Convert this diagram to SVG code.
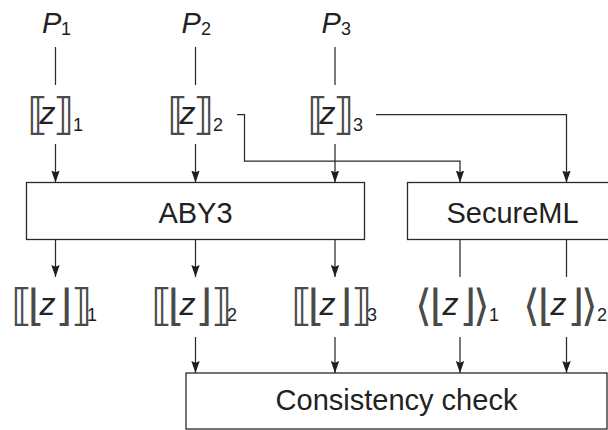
<svg xmlns="http://www.w3.org/2000/svg" width="608" height="430" viewBox="0 0 608 430">
  <defs>
    <marker id="arrow" markerUnits="userSpaceOnUse" markerWidth="13" markerHeight="10" refX="12" refY="4.5" orient="auto">
      <path d="M0,0.3 L12,4.5 L0,8.7 L1.8,4.5 z" fill="#1e1e1e"/>
    </marker>
    <style>
      .t { font-family: "Liberation Sans", Arial, sans-serif; font-size: 29px; fill: #222; }
      .it { font-style: italic; }
      .z { font-style: italic; font-size: 32px; }
      .br { font-family: "DejaVu Sans", sans-serif; font-size: 43px; fill: #4a4a4a; }
      .sub { font-size: 18px; }
      .box { fill: #fff; stroke: #2a2a2a; stroke-width: 1.3; }
      .ln { fill: none; stroke: #2a2a2a; stroke-width: 1.25; }
      .ar { marker-end: url(#arrow); }
    </style>
  </defs>
  <rect width="608" height="430" fill="#fff"/>

  <!-- parties -->
  <g id="p1"><text class="t"><tspan class="it" x="42" y="33">P</tspan><tspan class="sub" x="61" y="35">1</tspan></text></g>
  <g id="p2"><text class="t"><tspan class="it" x="181.5" y="33">P</tspan><tspan class="sub" x="201" y="35">2</tspan></text></g>
  <g id="p3"><text class="t"><tspan class="it" x="321.5" y="33">P</tspan><tspan class="sub" x="341" y="35">3</tspan></text></g>

  <!-- replicated shares of z -->
  <g id="zs1"><text class="t"><tspan class="br" x="27" y="128.5">⟦</tspan><tspan class="z" x="39.5" y="124">z</tspan><tspan class="br" x="53" y="128.5">⟧</tspan><tspan class="sub" x="73" y="130.5">1</tspan></text></g>
  <g id="zs2"><text class="t"><tspan class="br" x="167" y="128.5">⟦</tspan><tspan class="z" x="179.5" y="124">z</tspan><tspan class="br" x="193" y="128.5">⟧</tspan><tspan class="sub" x="213" y="130.5">2</tspan></text></g>
  <g id="zs3"><text class="t"><tspan class="br" x="307" y="128.5">⟦</tspan><tspan class="z" x="319.5" y="124">z</tspan><tspan class="br" x="333" y="128.5">⟧</tspan><tspan class="sub" x="353" y="130.5">3</tspan></text></g>

  <!-- protocol boxes -->
  <g id="aby3">
    <rect class="box" x="26.5" y="182.5" width="338" height="57"/>
    <text class="t" x="195.5" y="223" text-anchor="middle">ABY3</text>
  </g>
  <g id="secureml">
    <rect class="box" x="407.5" y="182.5" width="220" height="57"/>
    <text class="t" x="512.5" y="223" text-anchor="middle">SecureML</text>
  </g>

  <!-- truncated outputs -->
  <g id="fz1"><text class="t"><tspan class="br" x="11" y="319.5">⟦</tspan><tspan class="br" x="27.5" y="319.5">⌊</tspan><tspan class="z" x="39.5" y="315">z</tspan><tspan class="br" x="55.5" y="319.5">⌋</tspan><tspan class="br" x="71" y="319.5">⟧</tspan><tspan class="sub" x="87" y="321">1</tspan></text></g>
  <g id="fz2"><text class="t"><tspan class="br" x="151" y="319.5">⟦</tspan><tspan class="br" x="167.5" y="319.5">⌊</tspan><tspan class="z" x="179.5" y="315">z</tspan><tspan class="br" x="195.5" y="319.5">⌋</tspan><tspan class="br" x="211" y="319.5">⟧</tspan><tspan class="sub" x="227" y="321">2</tspan></text></g>
  <g id="fz3"><text class="t"><tspan class="br" x="291" y="319.5">⟦</tspan><tspan class="br" x="307.5" y="319.5">⌊</tspan><tspan class="z" x="319.5" y="315">z</tspan><tspan class="br" x="335.5" y="319.5">⌋</tspan><tspan class="br" x="351" y="319.5">⟧</tspan><tspan class="sub" x="367" y="321">3</tspan></text></g>
  <g id="fa1"><text class="t"><tspan class="br" x="415" y="319.5">⟨</tspan><tspan class="br" x="429.5" y="319.5">⌊</tspan><tspan class="z" x="442.5" y="315">z</tspan><tspan class="br" x="459.5" y="319.5">⌋</tspan><tspan class="br" x="473" y="319.5">⟩</tspan><tspan class="sub" x="489" y="321">1</tspan></text></g>
  <g id="fa2"><text class="t"><tspan class="br" x="523" y="319.5">⟨</tspan><tspan class="br" x="537.5" y="319.5">⌊</tspan><tspan class="z" x="550.5" y="315">z</tspan><tspan class="br" x="567.5" y="319.5">⌋</tspan><tspan class="br" x="581" y="319.5">⟩</tspan><tspan class="sub" x="597" y="321">2</tspan></text></g>

  <!-- check box -->
  <g id="check">
    <rect class="box" x="186" y="373" width="421" height="56"/>
    <text class="t" x="396.5" y="410" text-anchor="middle">Consistency check</text>
  </g>

  <!-- connectors -->
  <g id="connectors">
    <line class="ln" x1="55.5" y1="47" x2="55.5" y2="85"/>
    <line class="ln" x1="195.5" y1="47" x2="195.5" y2="85"/>
    <line class="ln" x1="335" y1="47" x2="335" y2="85"/>

    <line class="ln ar" x1="55.5" y1="144" x2="55.5" y2="182.5"/>
    <line class="ln ar" x1="195.5" y1="144" x2="195.5" y2="182.5"/>
    <line class="ln ar" x1="335" y1="144" x2="335" y2="182.5"/>
    <path class="ln ar" d="M237,114.5 H244.5 V161 H460 V182.5"/>
    <path class="ln ar" d="M376,114.5 H566.5 V182.5"/>

    <line class="ln ar" x1="55.5" y1="239.5" x2="55.5" y2="277"/>
    <line class="ln ar" x1="195.5" y1="239.5" x2="195.5" y2="277"/>
    <line class="ln ar" x1="335" y1="239.5" x2="335" y2="277"/>
    <line class="ln" x1="460" y1="239.5" x2="460" y2="277"/>
    <line class="ln" x1="566.5" y1="239.5" x2="566.5" y2="277"/>

    <line class="ln ar" x1="195.5" y1="337" x2="195.5" y2="373"/>
    <line class="ln ar" x1="335" y1="337" x2="335" y2="373"/>
    <line class="ln ar" x1="460" y1="337" x2="460" y2="373"/>
    <line class="ln ar" x1="566.5" y1="337" x2="566.5" y2="373"/>
  </g>
</svg>
